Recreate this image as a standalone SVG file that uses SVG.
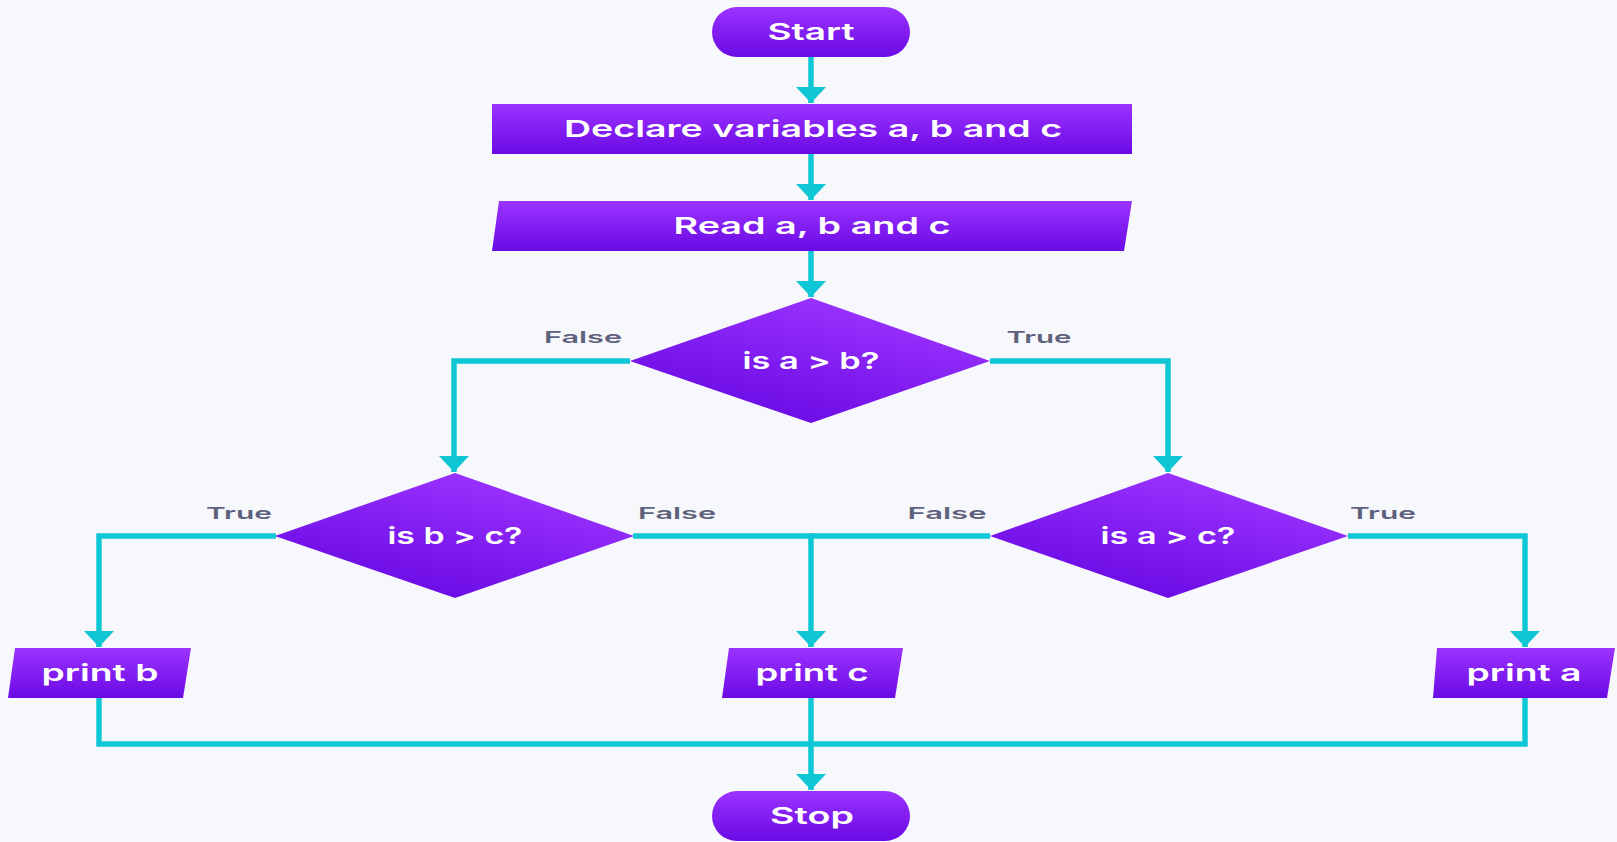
<svg xmlns="http://www.w3.org/2000/svg" width="1617" height="842" viewBox="0 0 1617 842">
  <defs>
    <linearGradient id="gBox" x1="0" y1="0" x2="0" y2="1">
      <stop offset="0" stop-color="#9b33ff"/>
      <stop offset="1" stop-color="#6a0ae4"/>
    </linearGradient>
    <linearGradient id="gDia" x1="0.75" y1="0.1" x2="0.25" y2="0.9">
      <stop offset="0" stop-color="#9b33ff"/>
      <stop offset="1" stop-color="#6a0ae4"/>
    </linearGradient>
    <marker id="arrow" markerUnits="userSpaceOnUse" markerWidth="18" markerHeight="32" refX="16" refY="15" orient="auto">
      <path d="M0 0 L16 15 L0 30 Z" fill="#0fc6d4"/>
    </marker>
  </defs>
  <style>
    .box { fill: url(#gBox); }
    .dia { fill: url(#gDia); }
    .t { font-family: Inter, "Liberation Sans", sans-serif; font-weight: 600; font-size: 23.5px; fill: #ffffff; text-anchor: middle; }
    .lbl { font-family: Inter, "Liberation Sans", sans-serif; font-weight: 600; font-size: 16.5px; fill: #5f627c; text-anchor: middle; }
    .c { fill: none; stroke: #0fc6d4; stroke-width: 5.5; stroke-linejoin: miter; }
  </style>

  <rect width="1617" height="842" fill="#f7f8fc"/>

  <!-- connectors -->
  <g id="connectors">
    <path class="c" d="M811 56 V103" marker-end="url(#arrow)"/>
    <path class="c" d="M811 154 V200" marker-end="url(#arrow)"/>
    <path class="c" d="M811 251 V297" marker-end="url(#arrow)"/>
    <path class="c" d="M630 361 H454 V472" marker-end="url(#arrow)"/>
    <path class="c" d="M990 361 H1168 V472" marker-end="url(#arrow)"/>
    <path class="c" d="M276 536 H99 V647" marker-end="url(#arrow)"/>
    <path class="c" d="M633 536 H811 V647" marker-end="url(#arrow)"/>
    <path class="c" d="M990 536 H811"/>
    <path class="c" d="M1348 536 H1525 V647" marker-end="url(#arrow)"/>
    <path class="c" d="M99 698 V744 H1525 V698"/>
    <path class="c" d="M811 698 V790" marker-end="url(#arrow)"/>
  </g>

  <!-- labels on branches -->
  <g id="branch-labels">
    <text class="lbl" x="583" y="343" textLength="78" lengthAdjust="spacingAndGlyphs">False</text>
    <text class="lbl" x="1039" y="343" textLength="65" lengthAdjust="spacingAndGlyphs">True</text>
    <text class="lbl" x="239" y="519" textLength="66" lengthAdjust="spacingAndGlyphs">True</text>
    <text class="lbl" x="677" y="519" textLength="78" lengthAdjust="spacingAndGlyphs">False</text>
    <text class="lbl" x="947" y="519" textLength="79" lengthAdjust="spacingAndGlyphs">False</text>
    <text class="lbl" x="1383" y="519" textLength="66" lengthAdjust="spacingAndGlyphs">True</text>
  </g>

  <g id="start">
    <rect class="box" x="712" y="7" width="198" height="50" rx="25"/>
    <text class="t" x="811" y="40" textLength="87" lengthAdjust="spacingAndGlyphs">Start</text>
  </g>

  <g id="declare">
    <rect class="box" x="492" y="104" width="640" height="50"/>
    <text class="t" x="813" y="137" textLength="498" lengthAdjust="spacingAndGlyphs">Declare variables a, b and c</text>
  </g>

  <g id="read">
    <polygon class="box" points="499,201 1132,201 1124,251 492,251"/>
    <text class="t" x="812" y="234" textLength="277" lengthAdjust="spacingAndGlyphs">Read a, b and c</text>
  </g>

  <g id="cond-ab">
    <polygon class="dia" points="811,298 990,361 811,423 630,361"/>
    <text class="t" x="811" y="369" textLength="137" lengthAdjust="spacingAndGlyphs">is a &gt; b?</text>
  </g>

  <g id="cond-bc">
    <polygon class="dia" points="455,473 634,536 455,598 275,536"/>
    <text class="t" x="455" y="544" textLength="135" lengthAdjust="spacingAndGlyphs">is b &gt; c?</text>
  </g>

  <g id="cond-ac">
    <polygon class="dia" points="1168,473 1348,536 1168,598 990,536"/>
    <text class="t" x="1168" y="544" textLength="135" lengthAdjust="spacingAndGlyphs">is a &gt; c?</text>
  </g>

  <g id="print-b">
    <polygon class="box" points="15,648 191,648 183,698 8,698"/>
    <text class="t" x="100" y="681" textLength="117" lengthAdjust="spacingAndGlyphs">print b</text>
  </g>

  <g id="print-c">
    <polygon class="box" points="729,648 903,648 895,698 722,698"/>
    <text class="t" x="812" y="681" textLength="113" lengthAdjust="spacingAndGlyphs">print c</text>
  </g>

  <g id="print-a">
    <polygon class="box" points="1437,648 1615,648 1607,698 1433,698"/>
    <text class="t" x="1524" y="681" textLength="115" lengthAdjust="spacingAndGlyphs">print a</text>
  </g>

  <g id="stop">
    <rect class="box" x="712" y="791" width="198" height="50" rx="25"/>
    <text class="t" x="812" y="824" textLength="84" lengthAdjust="spacingAndGlyphs">Stop</text>
  </g>
</svg>
